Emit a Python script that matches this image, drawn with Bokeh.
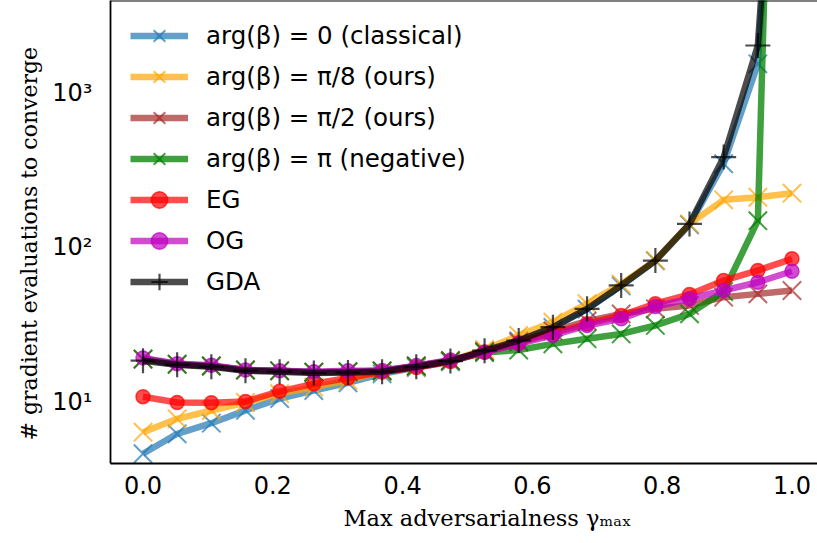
from bokeh.plotting import figure
from bokeh.models import Range1d, FixedTicker, Legend, LegendItem, Span, Title
from bokeh.embed import file_html
from bokeh.resources import INLINE

# Max adversarialness sweep (20 settings from 0 to 1)
gamma_max = [0.0, 0.0526, 0.1053, 0.1579, 0.2105, 0.2632, 0.3158, 0.3684, 0.4211, 0.4737,
             0.5263, 0.5789, 0.6316, 0.6842, 0.7368, 0.7895, 0.8421, 0.8947, 0.9474, 1.0]

# Gradient evaluations needed to converge, per method
classical = [4.67, 6.28, 7.35, 8.9, 10.6, 11.95, 13.4, 15.3, 16.8, 18.3,
             21.4, 25.0, 30.5, 40.0, 56.5, 82.0, 140.0, 347.0, 1531.0, 3.0e6]
ours_pi8 = [6.43, 7.85, 8.88, 10.0, 11.4, 12.55, 13.9, 15.9, 17.0, 18.6,
            22.0, 27.1, 33.0, 43.4, 58.0, 82.5, 142.0, 203.0, 211.0, 224.0]
ours_pi2 = [19.0, 17.6, 17.2, 16.2, 16.0, 15.7, 15.8, 16.0, 17.2, 18.6,
            21.3, 24.5, 29.0, 33.5, 37.3, 40.2, 42.3, 47.8, 50.2, 52.8]
negative = [19.1, 17.7, 17.2, 16.2, 16.0, 15.7, 15.8, 16.0, 17.2, 18.6,
            21.0, 21.8, 23.9, 25.8, 27.7, 31.4, 37.3, 52.0, 149.0, 1.0e10]
eg = [10.9, 10.0, 9.95, 10.15, 11.8, 13.2, 14.4, 15.7, 16.8, 18.4,
      21.2, 24.3, 28.0, 32.2, 36.4, 43.4, 49.8, 61.2, 71.1, 84.5]
og = [19.4, 17.8, 17.4, 16.2, 16.0, 15.8, 16.0, 16.1, 17.3, 18.8,
      21.1, 23.9, 27.1, 31.4, 34.7, 41.6, 46.7, 52.8, 59.7, 70.3]
gda = [18.6, 17.5, 17.0, 16.0, 15.8, 15.5, 15.6, 15.8, 17.0, 18.5,
       21.6, 25.1, 30.6, 40.2, 56.9, 82.4, 142.0, 383.0, 2010.0, 3.0e6]

series_labels = ["arg(β) = 0 (classical)", "arg(β) = π/8 (ours)", "arg(β) = π/2 (ours)",
                 "arg(β) = π (negative)", "EG", "OG", "GDA"]
series_values = [classical, ours_pi8, ours_pi2, negative, eg, og, gda]
series_colors = ["#1f77b4", "#ffa500", "#a52a2a", "#008000", "#ff0000", "#bf00bf", "#000000"]
series_alphas = [0.7, 0.7, 0.7, 0.75, 0.7, 0.7, 0.7]
series_markers = ["x", "x", "x", "x", "circle", "circle", "cross"]

x_ticks = [0.0, 0.2, 0.4, 0.6, 0.8, 1.0]
x_tick_labels = ["0.0", "0.2", "0.4", "0.6", "0.8", "1.0"]
y_ticks = [10, 100, 1000]
y_tick_labels = ["10¹", "10²", "10³"]

p = figure(width=817, height=543, output_backend="svg", toolbar_location=None,
           y_axis_type="log",
           x_range=Range1d(-0.0501, 1.0393), y_range=Range1d(4.04, 3923.0),
           min_border_left=110, min_border_right=0, min_border_top=0, min_border_bottom=80)
p.outline_line_color = None
p.background_fill_color = "white"
p.border_fill_color = "white"
p.xgrid.visible = False
p.ygrid.visible = False

for ax in (p.xaxis[0], p.yaxis[0]):
    ax.axis_line_color = "black"
    ax.axis_line_width = 1.8
    ax.major_tick_in = 0
    ax.major_tick_out = 0
    ax.minor_tick_in = 0
    ax.minor_tick_out = 0
    ax.major_label_text_font = "DejaVu Sans"
    ax.major_label_text_font_size = "24px"
    ax.major_label_text_color = "black"

p.xaxis.ticker = FixedTicker(ticks=x_ticks)
p.xaxis.major_label_overrides = dict(zip(x_ticks, x_tick_labels))
p.xaxis.major_label_standoff = 12
p.yaxis.ticker = FixedTicker(ticks=y_ticks, minor_ticks=[])
p.yaxis.major_label_overrides = dict(zip(y_ticks, y_tick_labels))
p.yaxis.major_label_standoff = 18

# top spine
p.add_layout(Span(location=3923.0, dimension="width", line_color="black", line_width=2))

items = []
for label, vals, col, alpha, mk in zip(series_labels, series_values, series_colors,
                                       series_alphas, series_markers):
    ln = p.line(gamma_max, vals, line_color=col, line_alpha=alpha, line_width=6.5)
    if mk == "circle":
        sc = p.scatter(gamma_max, vals, marker="circle", size=14, fill_color=col,
                       fill_alpha=alpha, line_color=col, line_alpha=alpha, line_width=1.5)
    elif mk == "cross":
        sc = p.scatter(gamma_max, vals, marker="cross", size=25, line_color=col,
                       line_alpha=alpha, line_width=2.2)
    else:
        sc = p.scatter(gamma_max, vals, marker="x", size=26, line_color=col,
                       line_alpha=alpha, line_width=2)
    items.append(LegendItem(label=label, renderers=[ln, sc]))

legend = Legend(items=items, location=(20, 161), glyph_width=58, glyph_height=41,
                spacing=0, padding=0, margin=0, label_standoff=18,
                label_text_font="DejaVu Sans", label_text_font_size="24.5px",
                label_text_color="black",
                border_line_color=None, background_fill_color="white",
                background_fill_alpha=0.8)
p.add_layout(legend)

# axis titles
p.add_layout(Title(text="# gradient evaluations to converge", align="left", offset=23,
                   text_font="DejaVu Serif", text_font_size="22px",
                   text_font_style="normal", text_color="black", standoff=16), "left")
p.add_layout(Title(text="Max adversarialness γₘₐₓ", align="left", offset=233,
                   text_font="DejaVu Serif", text_font_size="22.5px",
                   text_font_style="normal", text_color="black", standoff=12), "below")

open("out.html", "w").write(file_html(p, INLINE))
